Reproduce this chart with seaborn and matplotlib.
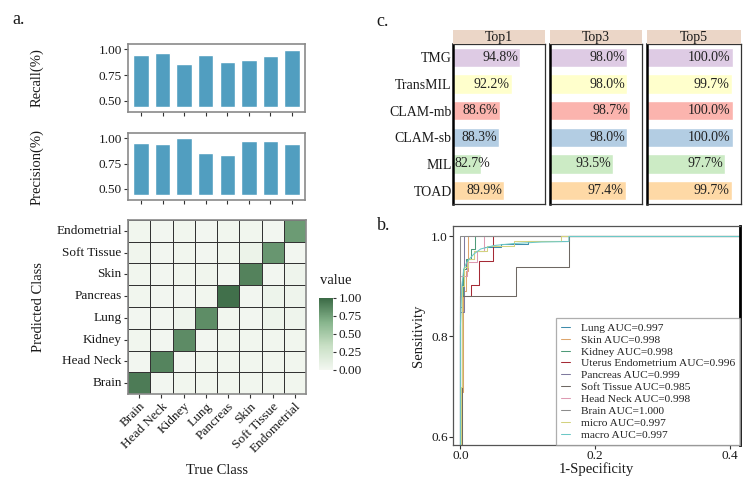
import numpy as np
import pandas as pd
import matplotlib
matplotlib.use("Agg")
import matplotlib.pyplot as plt
import seaborn as sns
from matplotlib.colors import LinearSegmentedColormap

# ---------------- data ----------------
classes = ["Brain", "Head Neck", "Kidney", "Lung", "Pancreas", "Skin", "Soft Tissue", "Endometrial"]
recall = [0.944, 0.967, 0.857, 0.944, 0.880, 0.900, 0.935, 0.993]
precision = [0.951, 0.945, 1.000, 0.857, 0.834, 0.977, 0.977, 0.940]

pred_rows = ["Endometrial", "Soft Tissue", "Skin", "Pancreas", "Lung", "Kidney", "Head Neck", "Brain"]
conf_endometrial = [0.02, 0.01, 0.02, 0.01, 0.02, 0.02, 0.01, 0.78]
conf_softtissue = [0.03, 0.01, 0.02, 0.01, 0.02, 0.06, 0.80, 0.01]
conf_skin = [0.02, 0.01, 0.02, 0.03, 0.01, 0.89, 0.01, 0.04]
conf_pancreas = [0.02, 0.01, 0.01, 0.02, 0.97, 0.01, 0.05, 0.04]
conf_lung = [0.01, 0.01, 0.04, 0.84, 0.02, 0.01, 0.05, 0.04]
conf_kidney = [0.02, 0.01, 0.85, 0.01, 0.02, 0.02, 0.02, 0.02]
conf_headneck = [0.01, 0.88, 0.01, 0.02, 0.02, 0.02, 0.02, 0.02]
conf_brain = [0.92, 0.01, 0.02, 0.02, 0.02, 0.02, 0.02, 0.02]

methods = ["TMG", "TransMIL", "CLAM-mb", "CLAM-sb", "MIL", "TOAD"]
top1 = [94.8, 92.2, 88.6, 88.3, 82.7, 89.9]
top3 = [98.0, 98.0, 98.7, 98.0, 93.5, 97.4]
top5 = [100.0, 99.7, 100.0, 100.0, 97.7, 99.7]
top_names = ["Top1", "Top3", "Top5"]
method_colors = ["#DECBE4", "#FFFFCC", "#FBB4AE", "#B3CDE3", "#CCEBC5", "#FED9A6"]

roc_labels = ["Lung AUC=0.997", "Skin AUC=0.998", "Kidney AUC=0.998",
              "Uterus Endometrium AUC=0.996", "Pancreas AUC=0.999",
              "Soft Tissue AUC=0.985", "Head Neck AUC=0.998", "Brain AUC=1.000",
              "micro AUC=0.997", "macro AUC=0.997"]
roc_colors = ["#3F8CAB", "#DDA56C", "#4E9A78", "#A52A35", "#7F7A9E",
              "#6E6863", "#DE9AB2", "#8C8C8C", "#D3D27F", "#6CC8C6"]
fpr_lung = [0, 0, 0.002, 0.002, 0.005, 0.005, 0.01, 0.01, 0.02, 0.02, 0.035, 0.035, 0.06, 0.06, 0.1, 0.1, 0.161, 0.161, 1]
tpr_lung = [0, 0.86, 0.86, 0.91, 0.91, 0.94, 0.94, 0.955, 0.955, 0.97, 0.97, 0.978, 0.978, 0.985, 0.985, 0.99, 0.99, 1, 1]
fpr_skin = [0, 0.0015, 0.0015, 0.004, 0.004, 0.008, 0.008, 0.011, 0.011, 1]
tpr_skin = [0, 0, 0.69, 0.69, 0.89, 0.89, 0.93, 0.93, 1, 1]
fpr_kidney = [0, 0, 0.004, 0.004, 0.008, 0.008, 0.015, 0.015, 0.022, 0.022, 1]
tpr_kidney = [0, 0.88, 0.88, 0.935, 0.935, 0.955, 0.955, 0.975, 0.975, 1, 1]
fpr_uterus = [0, 0, 0.016, 0.016, 0.028, 0.028, 0.048, 0.048, 1]
tpr_uterus = [0, 0.88, 0.88, 0.902, 0.902, 0.951, 0.951, 1, 1]
fpr_pancreas = [0, 0, 0.006, 0.006, 1]
tpr_pancreas = [0, 0.85, 0.85, 1, 1]
fpr_softtissue = [0, 0.002, 0.002, 0.0825, 0.0825, 0.161, 0.161, 1]
tpr_softtissue = [0, 0, 0.88, 0.88, 0.94, 0.94, 1, 1]
fpr_headneck = [0, 0, 0.01, 0.01, 0.025, 0.025, 0.035, 0.035, 1]
tpr_headneck = [0, 0.92, 0.92, 0.95, 0.95, 0.97, 0.97, 1, 1]
fpr_brain = [0, 0, 1]
tpr_brain = [0, 1, 1]
fpr_micro = [0, 0.001, 0.001, 0.003, 0.003, 0.006, 0.006, 0.012, 0.012, 0.02, 0.02, 0.04, 0.04, 0.08, 0.08, 0.15, 0.15, 1]
tpr_micro = [0, 0, 0.7, 0.7, 0.9, 0.9, 0.94, 0.94, 0.955, 0.955, 0.97, 0.97, 0.98, 0.98, 0.99, 0.99, 1, 1]
fpr_macro = [0, 0, 0.002, 0.005, 0.01, 0.02, 0.03, 0.05, 0.08, 0.12, 0.161, 0.161, 1]
tpr_macro = [0, 0.82, 0.9, 0.935, 0.95, 0.965, 0.975, 0.982, 0.986, 0.989, 0.99, 1, 1]

# ---------------- style ----------------
sns.set_theme(style="white")
plt.rcParams["font.family"] = ["Liberation Serif", "DejaVu Serif"]
TXT = "#1a1a1a"
plt.rcParams["text.color"] = TXT
plt.rcParams["axes.labelcolor"] = TXT
plt.rcParams["xtick.color"] = TXT
plt.rcParams["ytick.color"] = TXT

W, H = 755, 486
fig = plt.figure(figsize=(W / 100, H / 100), dpi=100)


def add_ax(x0, y0, x1, y1):
    return fig.add_axes([x0 / W, 1 - y1 / H, (x1 - x0) / W, (y1 - y0) / H])


def frame(ax, color="#7f7f7f", lw=1.0):
    for s in ax.spines.values():
        s.set_visible(True)
        s.set_color(color)
        s.set_linewidth(lw)


TICK_FS = 9.5
LAB_FS = 10.5

# ---------------- panel a: recall / precision bars ----------------
base = 0.44
bar_color = "#519EC0"
for vals, name, (y0, y1) in [(recall, "Recall(%)", (44, 112)), (precision, "Precision(%)", (133, 200))]:
    ax = add_ax(128, y0, 305, y1)
    xpos = np.arange(len(classes))
    ax.bar(xpos, np.array(vals) - base, bottom=base, width=0.72, color=bar_color)
    ax.set_xlim(-0.6, len(classes) - 0.4)
    ax.set_ylim(0.39, 1.052)
    ax.set_yticks([0.5, 0.75, 1.0])
    ax.set_yticklabels(["0.50", "0.75", "1.00"], fontsize=TICK_FS)
    ax.set_xticks(xpos)
    ax.set_xticklabels([])
    ax.tick_params(axis="both", length=3, width=0.8, color="#333333", left=True, bottom=True, pad=1.5)
    frame(ax, "#8a8a8a", 1.2)
    ax.set_ylabel(name, fontsize=LAB_FS)
    ax.yaxis.set_label_coords((37 - 128) / 177, 0.5)
    ax.yaxis.label.set_va("center")

# ---------------- panel a: confusion heatmap ----------------
conf = pd.DataFrame([conf_endometrial, conf_softtissue, conf_skin, conf_pancreas,
                     conf_lung, conf_kidney, conf_headneck, conf_brain],
                    index=pred_rows, columns=classes)
cmap = LinearSegmentedColormap.from_list("grn", ["#F3F7F1", "#C9E0C5", "#86B48C", "#3B6A45"])
axh = add_ax(128, 220, 306, 394)
cax = add_ax(319, 298, 333, 370)
sns.heatmap(conf, ax=axh, cmap=cmap, vmin=0, vmax=1, linewidths=0.65, linecolor="#333333",
            cbar_ax=cax, cbar_kws={"ticks": [0, 0.25, 0.5, 0.75, 1.0]})
axh.set_xticklabels(classes, rotation=45, ha="right", rotation_mode="anchor", fontsize=TICK_FS)
axh.set_yticklabels(pred_rows, rotation=0, fontsize=TICK_FS)
axh.tick_params(axis="both", length=3, width=0.8, color="#333333", left=True, bottom=True, pad=1.5)
frame(axh, "#8a8a8a", 1.2)
axh.set_xlabel("True Class", fontsize=LAB_FS)
axh.xaxis.set_label_coords(0.5, -(470 - 394) / 174)
axh.xaxis.label.set_va("center")
axh.set_ylabel("Predicted Class", fontsize=LAB_FS)
axh.yaxis.set_label_coords((38 - 128) / 178, 0.5)
axh.yaxis.label.set_va("center")
cbar = axh.collections[0].colorbar
cbar.set_ticklabels(["0.00", "0.25", "0.50", "0.75", "1.00"])
cbar.outline.set_visible(False)
cax.tick_params(axis="y", labelsize=TICK_FS, length=2, width=0.8, color="#333333", right=True, pad=2)
fig.text(320 / W, 1 - 280 / H, "value", fontsize=LAB_FS, ha="left", va="center")

# ---------------- panel c: top-k accuracy facets ----------------
facet_px = [(453, 545), (550, 642), (647, 741)]
xmin_c, xmax_c = 74.0, 102.5
for k, (vals, tname, (x0, x1)) in enumerate(zip([top1, top3, top5], top_names, facet_px)):
    ax = add_ax(x0, 44, x1, 204)
    dfc = pd.DataFrame({"method": methods, "acc": vals})
    sns.barplot(data=dfc, x="acc", y="method", hue="method", palette=method_colors,
                order=methods, hue_order=methods, orient="h", width=0.72, ax=ax,
                legend=False, saturation=1)
    ax.set_xlim(xmin_c, xmax_c)
    ax.set_xticks([])
    ax.set_xlabel("")
    ax.set_ylabel("")
    if k == 0:
        ax.set_yticks(range(len(methods)))
        ax.set_yticklabels(methods, fontsize=10)
        ax.tick_params(axis="y", length=0, pad=1)
    else:
        ax.set_yticks([])
    frame(ax, "#333333", 0.9)
    ax.spines["left"].set_color("black")
    ax.spines["left"].set_linewidth(1.8)
    for i, v in enumerate(vals):
        ax.text(max(v - 0.6, xmin_c + 11.5), i, f"{v:.1f}%", ha="right", va="center",
                fontsize=10, color="#222222")
    sax = add_ax(x0, 30, x1, 44)
    sax.set_facecolor("#EBD6C7")
    sax.set_xticks([])
    sax.set_yticks([])
    for s in sax.spines.values():
        s.set_visible(False)
    sax.text(0.5, 0.45, tname, transform=sax.transAxes, ha="center", va="center", fontsize=10)

# ---------------- panel b: ROC ----------------
roc_fpr = [fpr_lung, fpr_skin, fpr_kidney, fpr_uterus, fpr_pancreas, fpr_softtissue,
           fpr_headneck, fpr_brain, fpr_micro, fpr_macro]
roc_tpr = [tpr_lung, tpr_skin, tpr_kidney, tpr_uterus, tpr_pancreas, tpr_softtissue,
           tpr_headneck, tpr_brain, tpr_micro, tpr_macro]
rows = []
for lab, fx, ty in zip(roc_labels, roc_fpr, roc_tpr):
    for j, (a, b) in enumerate(zip(fx, ty)):
        rows.append({"fpr": a, "tpr": b, "curve": lab, "step": j})
roc_df = pd.DataFrame(rows)

axr = add_ax(453, 226, 740, 445)
sns.lineplot(data=roc_df, x="fpr", y="tpr", hue="curve", hue_order=roc_labels,
             palette=roc_colors, sort=False, estimator=None, linewidth=0.75, ax=axr)
axr.set_xlim(-0.011, 0.415)
axr.set_ylim(0.583, 1.021)
axr.set_xticks([0, 0.2, 0.4])
axr.set_xticklabels(["0.0", "0.2", "0.4"], fontsize=TICK_FS)
axr.set_yticks([0.6, 0.8, 1.0])
axr.set_yticklabels(["0.6", "0.8", "1.0"], fontsize=TICK_FS)
axr.tick_params(axis="both", length=3, width=0.8, color="#333333", left=True, bottom=True, pad=0.8)
frame(axr, "#555555", 0.9)
axr.spines["right"].set_color("black")
axr.spines["right"].set_linewidth(2.0)
axr.set_xlabel("1-Specificity", fontsize=LAB_FS)
axr.xaxis.set_label_coords(0.5, -(469 - 445) / 219)
axr.xaxis.label.set_va("center")
axr.set_ylabel("Sensitivity", fontsize=LAB_FS)
axr.yaxis.set_label_coords((418 - 453) / 287, 0.5)
axr.yaxis.label.set_va("center")
leg = axr.legend(loc="lower right", borderaxespad=0, fontsize=8.2, frameon=True, fancybox=False,
                 handlelength=0.8, handletextpad=0.9, labelspacing=0.17, borderpad=0.45)
leg.get_frame().set_edgecolor("#9a9a9a")
leg.get_frame().set_linewidth(0.9)
for t in leg.get_texts():
    t.set_color("#222222")

# ---------------- panel letters ----------------
fig.text(12 / W, 1 - 20 / H, "a.", fontsize=13, ha="left", va="center")
fig.text(376 / W, 1 - 22 / H, "c.", fontsize=13, ha="left", va="center")
fig.text(377 / W, 1 - 225 / H, "b.", fontsize=13, ha="left", va="center")

fig.savefig("out.png", dpi=100)
